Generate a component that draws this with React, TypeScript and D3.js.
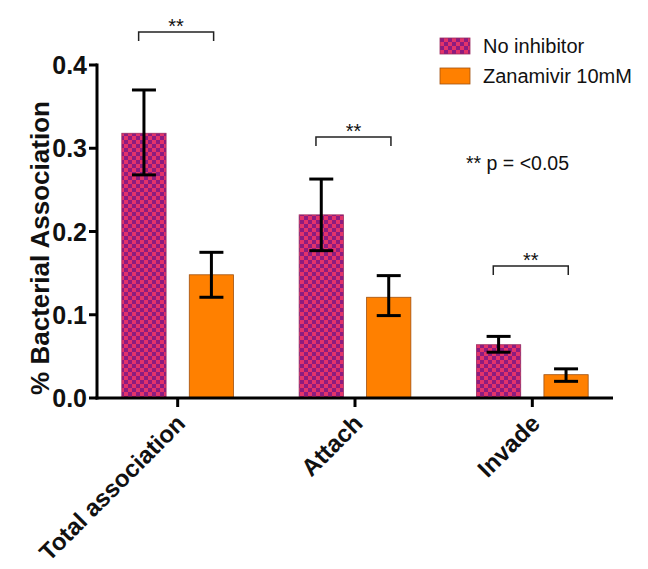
import React from "react";
import * as d3 from "d3";

const categories = ["Total association", "Attach", "Invade"];
const seriesNames = ["No inhibitor", "Zanamivir 10mM"];
const noInhibitor = [0.318, 0.22, 0.064];
const noInhibitorLow = [0.268, 0.177, 0.055];
const noInhibitorHigh = [0.37, 0.263, 0.074];
const zanamivir = [0.148, 0.121, 0.028];
const zanamivirLow = [0.121, 0.099, 0.02];
const zanamivirHigh = [0.175, 0.147, 0.035];
const yTicks = [0, 0.1, 0.2, 0.3, 0.4];
const sigLabels = ["**", "**", "**"];
const sigLevels = [0.4396, 0.3135, 0.1586];
const note = "** p = <0.05";

const W = 648;
const H = 569;
const left = 97;
const right = 613;
const top = 65;
const bottom = 398;

export default function App() {
  const y = d3.scaleLinear().domain([0, 0.4]).range([bottom, top]);
  const x0 = d3.scaleBand().domain(categories).range([left, right]).paddingInner(0.37).paddingOuter(0.14);
  const x1 = d3.scaleBand().domain(seriesNames).range([0, x0.bandwidth()]).paddingInner(0.344);
  const series = [
    { name: seriesNames[0], vals: noInhibitor, lo: noInhibitorLow, hi: noInhibitorHigh, fill: "url(#checker)", stroke: "#9a2a60" },
    { name: seriesNames[1], vals: zanamivir, lo: zanamivirLow, hi: zanamivirHigh, fill: "#ff8000", stroke: "#a05010" },
  ];
  const font = "Arial, 'Liberation Sans', sans-serif";
  const capW = 24;
  return (
    <svg width={W} height={H} style={{ position: "absolute", left: 0, top: 0 }} fontFamily={font}>
      <defs>
        <pattern id="checker" width={8} height={8} patternUnits="userSpaceOnUse">
          <rect width={8} height={8} fill="#e3336a" />
          <rect width={4} height={4} fill="#8c1c80" />
          <rect x={4} y={4} width={4} height={4} fill="#8c1c80" />
        </pattern>
      </defs>
      <rect width={W} height={H} fill="#fff" />
      {categories.map((c, i) =>
        series.map((s) => {
          const bx = (x0(c) as number) + (x1(s.name) as number);
          const bw = x1.bandwidth();
          const cx = bx + bw / 2;
          return (
            <g key={c + s.name}>
              <rect x={bx} y={y(s.vals[i])} width={bw} height={bottom - y(s.vals[i])} fill={s.fill} stroke={s.stroke} strokeWidth={0.8} />
              <line x1={cx} x2={cx} y1={y(s.hi[i])} y2={y(s.lo[i])} stroke="#000" strokeWidth={3} />
              <line x1={cx - capW / 2} x2={cx + capW / 2} y1={y(s.hi[i])} y2={y(s.hi[i])} stroke="#000" strokeWidth={3} />
              <line x1={cx - capW / 2} x2={cx + capW / 2} y1={y(s.lo[i])} y2={y(s.lo[i])} stroke="#000" strokeWidth={3} />
            </g>
          );
        })
      )}
      {/* significance brackets */}
      {categories.map((c, i) => {
        const a = (x0(c) as number) + (x1(seriesNames[0]) as number) + x1.bandwidth() * 0.38;
        const b = (x0(c) as number) + (x1(seriesNames[1]) as number) + x1.bandwidth() * 0.55;
        const by = y(sigLevels[i]);
        return (
          <g key={"sig" + c}>
            <path d={`M${a},${by + 9}V${by}H${b}V${by + 9}`} fill="none" stroke="#222" strokeWidth={1.5} />
            <text x={(a + b) / 2} y={by + 1} textAnchor="middle" fontSize={20} fill="#111">{sigLabels[i]}</text>
          </g>
        );
      })}
      {/* axes */}
      <line x1={left} x2={left} y1={top - 1.5} y2={bottom + 1.5} stroke="#000" strokeWidth={3} />
      <line x1={left - 1.5} x2={right} y1={bottom} y2={bottom} stroke="#000" strokeWidth={3} />
      {yTicks.map((t) => (
        <g key={t}>
          <line x1={left - 8} x2={left} y1={y(t)} y2={y(t)} stroke="#000" strokeWidth={3} />
          <text x={left - 10} y={y(t)} dy="0.36em" textAnchor="end" fontSize={25} fontWeight="bold" fill="#111">{d3.format(".1f")(t)}</text>
        </g>
      ))}
      {categories.map((c) => {
        const cx = (x0(c) as number) + x0.bandwidth() / 2;
        return (
          <g key={"xt" + c}>
            <line x1={cx} x2={cx} y1={bottom} y2={bottom + 9} stroke="#000" strokeWidth={3} />
            <text transform={`translate(${cx + 9},${bottom + 27}) rotate(-45)`} textAnchor="end" fontSize={24} fontWeight="bold" fill="#111">{c}</text>
          </g>
        );
      })}
      <text transform={`translate(49,248) rotate(-90)`} textAnchor="middle" fontSize={26} fontWeight="bold" fill="#111">% Bacterial Association</text>
      {/* legend */}
      {series.map((s, i) => (
        <g key={"lg" + s.name} transform={`translate(440,${38 + i * 30})`}>
          <rect width={30} height={16} fill={s.fill} stroke={s.stroke} strokeWidth={0.8} />
          <text x={43} y={8} dy="0.36em" fontSize={20} fill="#111">{s.name}</text>
        </g>
      ))}
      <text x={466} y={163} dy="0.36em" fontSize={19.5} fill="#111">{note}</text>
    </svg>
  );
}
